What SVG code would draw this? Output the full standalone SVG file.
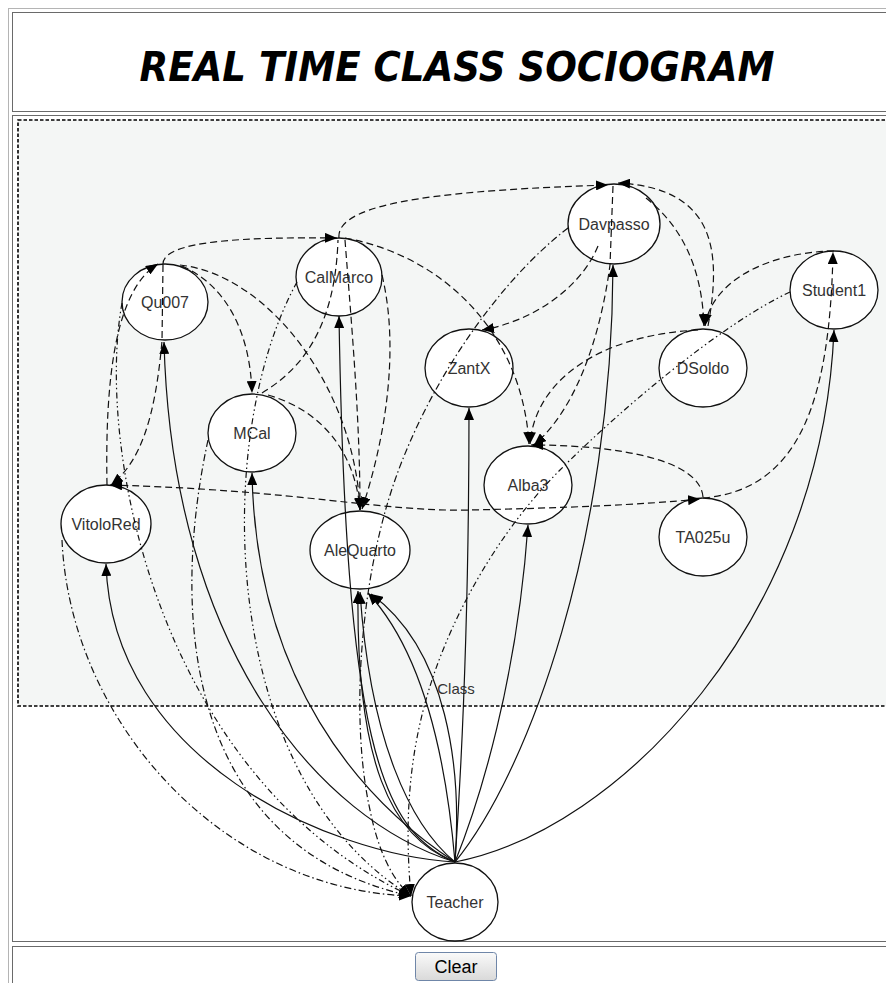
<svg xmlns="http://www.w3.org/2000/svg" width="886" height="983" viewBox="0 0 886 983">
<style>
.frame{fill:#fff;stroke:#6a6a6a;stroke-width:1}
.n ellipse{fill:#fff;stroke:#111;stroke-width:1.3}
.n text{font-family:"Liberation Sans",Arial,sans-serif;font-size:16px;fill:#333;text-anchor:middle}
.e path{fill:none;stroke:#111;stroke-width:1.2}
.e .a{marker-end:url(#ah)}
.e .b{marker-start:url(#ahs);marker-end:url(#ah)}
.e .d{stroke-dasharray:7,4}
.e .dd{stroke-dasharray:7,3,1.5,3}
.e .ddd{stroke-dasharray:6,3,1.5,3,1.5,3}
</style>
<defs>
<marker id="ah" viewBox="0 0 12 10" refX="12" refY="5" markerWidth="12" markerHeight="10" orient="auto" markerUnits="userSpaceOnUse"><path d="M0,0 L12,5 L0,10 z" fill="#000"/></marker>
<marker id="ahs" viewBox="0 0 12 10" refX="12" refY="5" markerWidth="12" markerHeight="10" orient="auto-start-reverse" markerUnits="userSpaceOnUse"><path d="M0,0 L12,5 L0,10 z" fill="#000"/></marker>
<linearGradient id="btn" x1="0" y1="0" x2="0" y2="1"><stop offset="0" stop-color="#fafafa"/><stop offset="1" stop-color="#d9d9d9"/></linearGradient>
</defs>
<rect width="886" height="983" fill="#fff"/>
<rect x="8.5" y="8.5" width="900" height="1000" fill="none" stroke="#b4b4b4"/>
<rect class="frame" x="12.5" y="12.5" width="890" height="99"/>
<rect class="frame" x="12.5" y="115.5" width="890" height="826"/>
<rect class="frame" x="12.5" y="946.5" width="890" height="60"/>
<text x="457" y="81" font-family="DejaVu Sans, sans-serif" font-weight="bold" font-style="italic" font-size="40" textLength="635" lengthAdjust="spacingAndGlyphs" text-anchor="middle" fill="#000">REAL TIME CLASS SOCIOGRAM</text>
<g id="cluster-class">
<rect x="18" y="120" width="880" height="586" fill="#f4f6f5" stroke="#000" stroke-width="1.6" stroke-dasharray="3.5,2"/>
<text x="456" y="694" font-family="Liberation Sans, Arial, sans-serif" font-size="15" fill="#333" text-anchor="middle">Class</text>
</g>
<g id="nodes">
<g id="Qu007" class="n"><ellipse cx="165" cy="302" rx="43" ry="38"/><text x="165" y="308">Qu007</text></g>
<g id="CalMarco" class="n"><ellipse cx="339" cy="277" rx="43" ry="39"/><text x="339" y="283">CalMarco</text></g>
<g id="Davpasso" class="n"><ellipse cx="614" cy="224" rx="46" ry="40"/><text x="614" y="230">Davpasso</text></g>
<g id="Student1" class="n"><ellipse cx="834" cy="290" rx="44" ry="39"/><text x="834" y="296">Student1</text></g>
<g id="ZantX" class="n"><ellipse cx="469" cy="368" rx="44" ry="39"/><text x="469" y="374">ZantX</text></g>
<g id="DSoldo" class="n"><ellipse cx="703" cy="368" rx="44" ry="39"/><text x="703" y="374">DSoldo</text></g>
<g id="MCal" class="n"><ellipse cx="252" cy="433" rx="44" ry="39"/><text x="252" y="439">MCal</text></g>
<g id="Alba3" class="n"><ellipse cx="528" cy="485" rx="44" ry="39"/><text x="528" y="491">Alba3</text></g>
<g id="VitoloRed" class="n"><ellipse cx="106" cy="524" rx="45" ry="39"/><text x="106" y="530">VitoloRed</text></g>
<g id="AleQuarto" class="n"><ellipse cx="360" cy="550" rx="50" ry="39"/><text x="360" y="556">AleQuarto</text></g>
<g id="TA025u" class="n"><ellipse cx="703" cy="537" rx="44" ry="39"/><text x="703" y="543">TA025u</text></g>
<g id="Teacher" class="n"><ellipse cx="455" cy="902" rx="43" ry="39"/><text x="455" y="908">Teacher</text></g>
</g>
<g id="connectors" class="e">
<path class="a" d="M455,862 C330,855 112,760 106,564"/>
<path class="a" d="M455,862 C320,820 172,650 164,342"/>
<path class="a" d="M455,862 C360,800 256,680 252,473"/>
<path class="a" d="M455,862 C380,830 346,740 339,316"/>
<path class="a" d="M455,862 C390,838 356,760 358,591"/>
<path class="a" d="M455,862 C410,825 370,740 360,592"/>
<path class="a" d="M455,862 C448,780 430,660 368,593"/>
<path class="a" d="M455,862 C462,770 448,650 371,594"/>
<path class="a" d="M455,862 C462,760 469,600 469,408"/>
<path class="a" d="M455,862 C480,800 517,680 528,525"/>
<path class="a" d="M455,862 C530,770 612,540 613,265"/>
<path class="a" d="M455,862 C620,830 822,620 834,330"/>
<path class="a d" d="M163,264 C163,240 250,237 337,238"/>
<path class="a d" d="M339,238 C335,200 460,190 608,185"/>
<path class="a d" d="M708,326 C722,250 715,188 618,183"/>
<path class="a d" d="M646,198 C680,225 702,265 704,326"/>
<path class="a d" d="M834,251 C770,252 712,280 705,326"/>
<path class="a d" d="M703,498 C800,490 830,400 833,252"/>
<path class="a d" d="M698,330 C600,335 535,380 530,444"/>
<path class="a d" d="M613,186 L610,265 C600,340 575,410 534,445"/>
<path class="a d" d="M703,497 C700,460 620,445 531,445"/>
<path class="a d" d="M345,238 C440,255 522,330 529,444"/>
<path class="a d" d="M182,266 C225,285 250,330 252,393"/>
<path class="a d" d="M180,265 C270,275 355,390 360,510"/>
<path class="a d" d="M345,240 C352,330 360,420 360,510"/>
<path class="a d" d="M382,275 C400,350 385,440 362,509"/>
<path class="a d" d="M268,395 C320,410 355,450 360,510"/>
<path class="d" d="M262,393 C300,370 335,330 338,240"/>
<path class="a d" d="M107,485 C105,380 115,290 158,264"/>
<path class="a d" d="M163,265 L162,341 C155,420 140,462 111,485"/>
<path class="b d" d="M110,485 C300,490 380,512 470,510 C560,508 640,505 700,499"/>
<path class="a d" d="M598,246 C580,290 530,322 482,330"/>
<path class="a dd" d="M62,540 C70,720 220,890 411,896"/>
<path class="a ddd" d="M122,303 C95,450 160,780 411,896"/>
<path class="a dd" d="M208,440 C165,640 200,850 411,896"/>
<path class="a ddd" d="M297,282 C210,440 220,780 411,896"/>
<path class="a dd" d="M568,228 C500,280 430,380 395,480 C360,580 350,720 370,810 C378,850 392,880 411,896"/>
<path class="a ddd" d="M790,292 C720,325 620,410 560,470 C500,530 455,610 432,680 C409,750 404,820 411,896"/>
</g>
<g id="clear-button">
<rect x="415.5" y="952.5" width="81" height="28" rx="3" fill="url(#btn)" stroke="#6f86a8"/>
<text x="456" y="973" font-family="Liberation Sans, Arial, sans-serif" font-size="18" fill="#000" text-anchor="middle">Clear</text>
</g>
</svg>
